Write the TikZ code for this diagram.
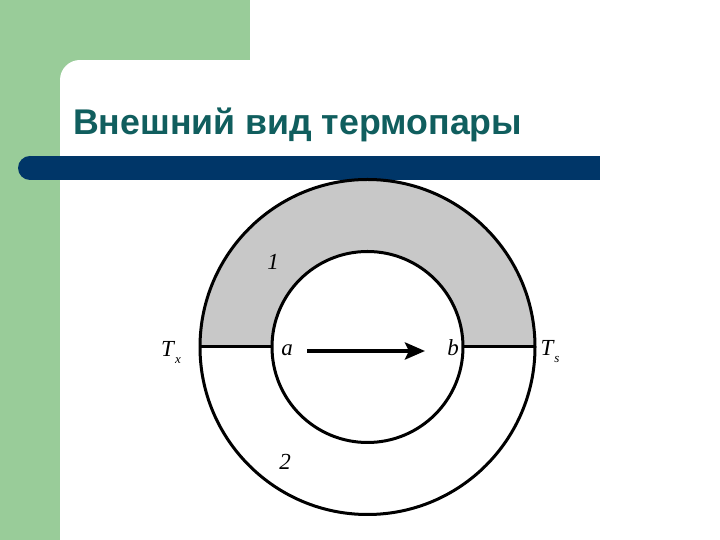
\documentclass[tikz,border=0pt]{standalone}
\usepackage{fontspec}
\usetikzlibrary{arrows.meta}
\newfontfamily\titlefont{Liberation Sans}
\newfontfamily\labfont{Liberation Serif}
\definecolor{slidegreen}{RGB}{153,204,153}
\definecolor{barblue}{RGB}{0,54,104}
\definecolor{titleteal}{RGB}{16,94,94}
\definecolor{annulusgray}{RGB}{200,200,200}
\tikzset{
  ring/.style={circle, draw=black, line width=3pt, inner sep=0pt, outer sep=0pt},
  lab/.style={font=\labfont\itshape\fontsize{23}{26}\selectfont, inner sep=0pt},
}
\begin{document}
\begin{tikzpicture}[x=1pt,y=1pt]
\useasboundingbox (0,0) rectangle (720,540);
% background
\fill[white] (0,0) rectangle (720,540);
\fill[slidegreen] (0,480) rectangle (250,540);
\fill[slidegreen] (0,0) rectangle (80,540);
\fill[white] (60,0) rectangle (260,460);
\fill[white] (80,0) rectangle (260,480);
\fill[white] (80,460) circle (20);
% title
\node[anchor=base west, inner sep=0pt, text=titleteal, font=\titlefont\bfseries\fontsize{35.7}{40}\selectfont] (title) at (73,405) {Внешний вид термопары};
% bar
\fill[barblue] (30,360) rectangle (600,384);
\fill[barblue] (30,372) circle (12);
% annulus
\fill[annulusgray] (200,193) arc (180:0:167.5) -- (463,193) arc (0:180:95.5) -- cycle;
\node[ring, minimum size=335pt] (outer) at (367.5,193) {};
\node[ring, minimum size=191pt] (inner) at (367.5,193) {};
\draw[line width=3pt] (outer.west) -- (inner.west);
\draw[line width=3pt] (outer.east) -- (inner.east);
% arrow
\coordinate (as) at (307,189);
\coordinate (ae) at (425,189);
\draw[line width=4.5pt, -{Stealth[length=20pt,width=17pt,inset=4pt]}] (as) -- (ae);
% labels
\node[lab] (la) at (287,190) {a};
\node[lab] (lb) at (453,192) {b};
\node[lab] (tx) at (171,188) {T\kern1pt\raisebox{-7pt}{\fontsize{13}{14}\selectfont x}};
\node[lab] (ts) at (550,188) {T\kern1pt\raisebox{-7pt}{\fontsize{13}{14}\selectfont s}};
\node[lab] (l1) at (273,278) {1};
\node[lab] (l2) at (285,78) {2};
\end{tikzpicture}
\end{document}
